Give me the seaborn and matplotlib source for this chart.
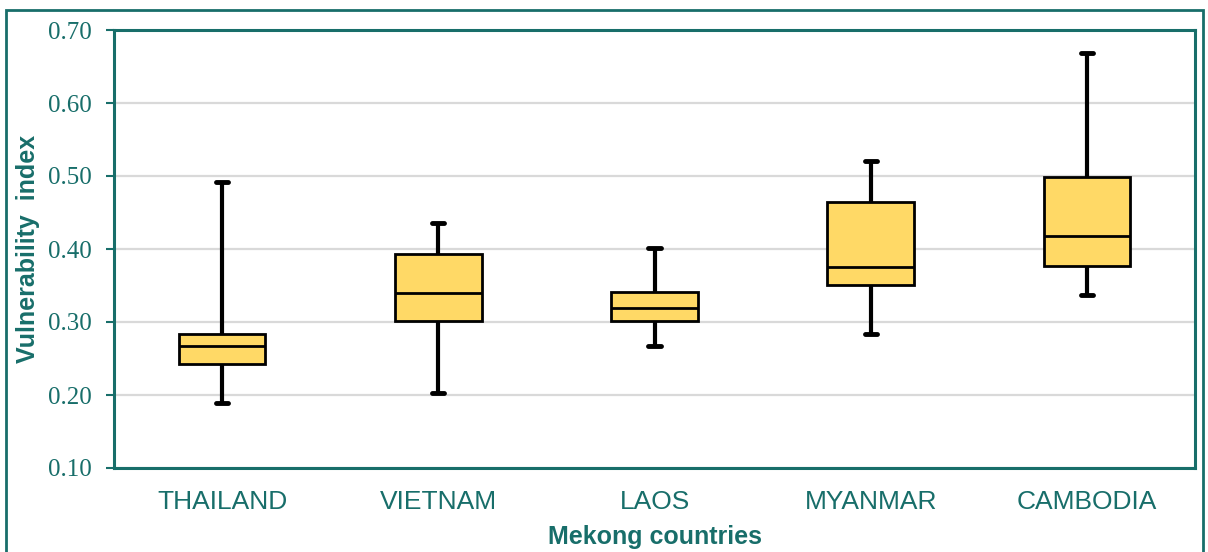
import matplotlib
matplotlib.use("Agg")
import matplotlib.pyplot as plt
from matplotlib.patches import Rectangle
import seaborn as sns
import pandas as pd

# five-number summaries (min, q1, median, q3, max)
countries = ["THAILAND", "VIETNAM", "LAOS", "MYANMAR", "CAMBODIA"]
thailand = [0.189, 0.243, 0.267, 0.283, 0.492]
vietnam = [0.203, 0.302, 0.340, 0.393, 0.435]
laos = [0.267, 0.302, 0.319, 0.341, 0.402]
myanmar = [0.284, 0.351, 0.375, 0.464, 0.521]
cambodia = [0.337, 0.377, 0.418, 0.498, 0.669]

teal = "#186E6A"
gold = "#FFD966"

rows = []
for name, vals in zip(countries, [thailand, vietnam, laos, myanmar, cambodia]):
    for v in vals:
        rows.append({"country": name, "value": v})
df = pd.DataFrame(rows)

sns.set_style("white")
plt.rcParams["font.family"] = ["Liberation Sans", "DejaVu Sans"]

fig = plt.figure(figsize=(12.08, 5.52), dpi=100)
ax = fig.add_axes([114 / 1208, 1 - 468 / 552, 1081 / 1208, 438 / 552])

sns.boxplot(data=df, x="country", y="value", order=countries, ax=ax,
            color=gold, saturation=1, width=0.40, whis=(0, 100),
            linecolor="black", linewidth=2.0,
            whiskerprops={"linewidth": 3.0},
            capprops={"linewidth": 3.5},
            capwidths=0.056, zorder=3)

ax.set_xlim(-0.5, 4.5)
ax.set_ylim(0.10, 0.70)
ax.set_yticks([0.10, 0.20, 0.30, 0.40, 0.50, 0.60, 0.70])
ax.set_yticklabels(["%.2f" % t for t in ax.get_yticks()],
                   family="Liberation Serif", fontsize=18, color=teal)
ax.set_xticks(range(len(countries)))
ax.set_xticklabels(countries, fontsize=19, color=teal)

ax.yaxis.grid(True, color="#D9D9D9", linewidth=1.6, zorder=0)
ax.xaxis.grid(False)
ax.set_axisbelow(True)

ax.tick_params(axis="y", left=True, length=6, width=1.5, color=teal, pad=10)
ax.tick_params(axis="x", bottom=False, length=0, pad=16)
for sp in ax.spines.values():
    sp.set_visible(True)
    sp.set_color(teal)
    sp.set_linewidth(2.2)

ax.set_xlabel("Mekong countries", fontsize=18, fontweight="bold", color=teal,
              va="center")
ax.xaxis.set_label_coords(0.5, -0.158)
ax.set_ylabel("Vulnerability  index", fontsize=18, fontweight="bold", color=teal,
              va="center")
ax.yaxis.set_label_coords(-0.0796, 0.5)

# outer frame around the chart
fig.patches.append(Rectangle((6 / 1208, -0.2), 1197 / 1208, 0.2 + 1 - 10 / 552,
                             transform=fig.transFigure, fill=False,
                             edgecolor=teal, linewidth=2.0, clip_on=False))

fig.savefig("out.png", dpi=100)
